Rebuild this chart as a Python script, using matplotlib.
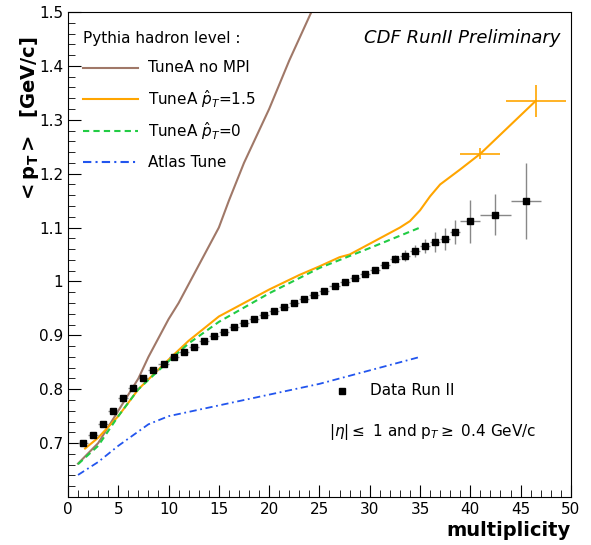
import numpy as np
import matplotlib.pyplot as plt

data_x = [1.5, 2.5, 3.5, 4.5, 5.5, 6.5, 7.5, 8.5, 9.5, 10.5, 11.5, 12.5, 13.5, 14.5, 15.5,
          16.5, 17.5, 18.5, 19.5, 20.5, 21.5, 22.5, 23.5, 24.5, 25.5, 26.5, 27.5, 28.5,
          29.5, 30.5, 31.5, 32.5, 33.5, 34.5, 35.5, 36.5, 37.5, 38.5, 40.0, 42.5, 45.5]
data_y = [0.700, 0.715, 0.736, 0.760, 0.783, 0.802, 0.820, 0.835, 0.846, 0.859, 0.870,
          0.879, 0.889, 0.898, 0.907, 0.915, 0.923, 0.931, 0.938, 0.946, 0.952, 0.960,
          0.968, 0.975, 0.983, 0.992, 0.999, 1.007, 1.014, 1.021, 1.030, 1.042, 1.048,
          1.056, 1.065, 1.073, 1.079, 1.092, 1.112, 1.124, 1.149]
data_yerr = [0.003] * 31 + [0.008, 0.010, 0.011, 0.013, 0.018, 0.020, 0.022, 0.040, 0.038, 0.070]
data_xerr = [0.5] * 38 + [1.0, 1.5, 1.5]

nompi_x = [1, 3, 5, 7, 8, 9, 10, 11, 12, 13, 14, 15, 16, 17.5, 20, 22, 24.2]
nompi_y = [0.662, 0.70, 0.76, 0.82, 0.86, 0.895, 0.93, 0.96, 0.995, 1.03, 1.065, 1.10,
           1.15, 1.22, 1.32, 1.41, 1.5]

tuneA_x = [1.7, 3, 5, 7, 10, 12, 15, 17, 20, 23, 25, 27, 28, 30, 33, 34, 35, 36, 37, 39, 41, 46.5]
tuneA_y = [0.69, 0.71, 0.75, 0.80, 0.855, 0.89, 0.935, 0.955, 0.985, 1.012, 1.028, 1.045,
           1.05, 1.07, 1.10, 1.112, 1.132, 1.158, 1.18, 1.208, 1.237, 1.335]

tuneA0_x = [1, 3, 5, 7, 10, 12, 15, 20, 25, 30, 35]
tuneA0_y = [0.661, 0.695, 0.75, 0.80, 0.852, 0.885, 0.925, 0.978, 1.025, 1.062, 1.10]

atlas_x = [1, 3, 5, 8, 10, 15, 20, 25, 30, 35]
atlas_y = [0.641, 0.665, 0.695, 0.735, 0.75, 0.77, 0.79, 0.81, 0.835, 0.86]

fig = plt.figure(figsize=(5.91, 5.45), dpi=100)
ax = fig.add_axes([0.115, 0.088, 0.851, 0.89])

ax.plot(nompi_x, nompi_y, color='#a07868', lw=1.5)
ax.plot(tuneA_x, tuneA_y, color='#ffa500', lw=1.5)
ax.errorbar([41, 46.5], [1.237, 1.335], xerr=[2, 3], yerr=[0.01, 0.03], fmt='none',
            ecolor='#ffa500', lw=1.2)
ax.plot(tuneA0_x, tuneA0_y, color='#22cc44', lw=1.5, ls=(0, (3, 2)))
ax.plot(atlas_x, atlas_y, color='#2255ee', lw=1.3, ls=(0, (4, 2, 1, 2)))
ax.errorbar(data_x, data_y, xerr=data_xerr, yerr=data_yerr, fmt='s', color='black',
            ms=4.5, ecolor='#888888', elinewidth=1)

ax.set_xlim(0, 50)
ax.set_ylim(0.6, 1.5)
ax.set_xticks(range(0, 51, 5))
ax.set_yticks([0.7, 0.8, 0.9, 1.0, 1.1, 1.2, 1.3, 1.4, 1.5])
ax.set_yticklabels(['0.7', '0.8', '0.9', '1', '1.1', '1.2', '1.3', '1.4', '1.5'])
ax.set_xticks(np.arange(0, 50.1, 1), minor=True)
ax.set_yticks(np.arange(0.6, 1.501, 0.02), minor=True)
ax.tick_params(which='both', direction='in', top=False, right=False, labelsize=11)
ax.tick_params(which='major', length=9)
ax.tick_params(which='minor', length=5)

ax.set_xlabel('multiplicity', fontsize=14, fontweight='bold')
ax.xaxis.set_label_coords(1.0, -0.05)
ax.xaxis.label.set_horizontalalignment('right')
fig.text(0.05, 0.78, r'$\mathbf{<p_{T}>}$  [GeV/c]', rotation=90, ha='center', va='center',
         fontsize=14, fontweight='bold')

ax.text(0.98, 0.965, 'CDF RunII Preliminary', transform=ax.transAxes, ha='right', va='top',
        fontsize=13, style='italic')
ax.text(0.03, 0.96, 'Pythia hadron level :', transform=ax.transAxes, va='top', fontsize=11)
leg = [('TuneA no MPI', '#a07868', '-'), (r'TuneA $\hat{p}_T$=1.5', '#ffa500', '-'),
       (r'TuneA $\hat{p}_T$=0', '#22cc44', (0, (3, 2))),
       ('Atlas Tune', '#2255ee', (0, (4, 2, 1, 2)))]
for i, (lab, c, ls) in enumerate(leg):
    yy = 0.885 - i * 0.065
    ax.plot([0.03, 0.14], [yy, yy], transform=ax.transAxes, color=c, ls=ls, lw=1.5)
    ax.text(0.16, yy, lab, transform=ax.transAxes, va='center', fontsize=11)
ax.plot([0.545], [0.219], 's', color='black', ms=5, transform=ax.transAxes)
ax.text(0.6, 0.219, 'Data Run II', transform=ax.transAxes, va='center', fontsize=11)
ax.text(0.52, 0.135, r'|$\eta$|$\leq$ 1 and p$_T$$\geq$ 0.4 GeV/c', transform=ax.transAxes,
        va='center', fontsize=11)

fig.savefig('out.png')
